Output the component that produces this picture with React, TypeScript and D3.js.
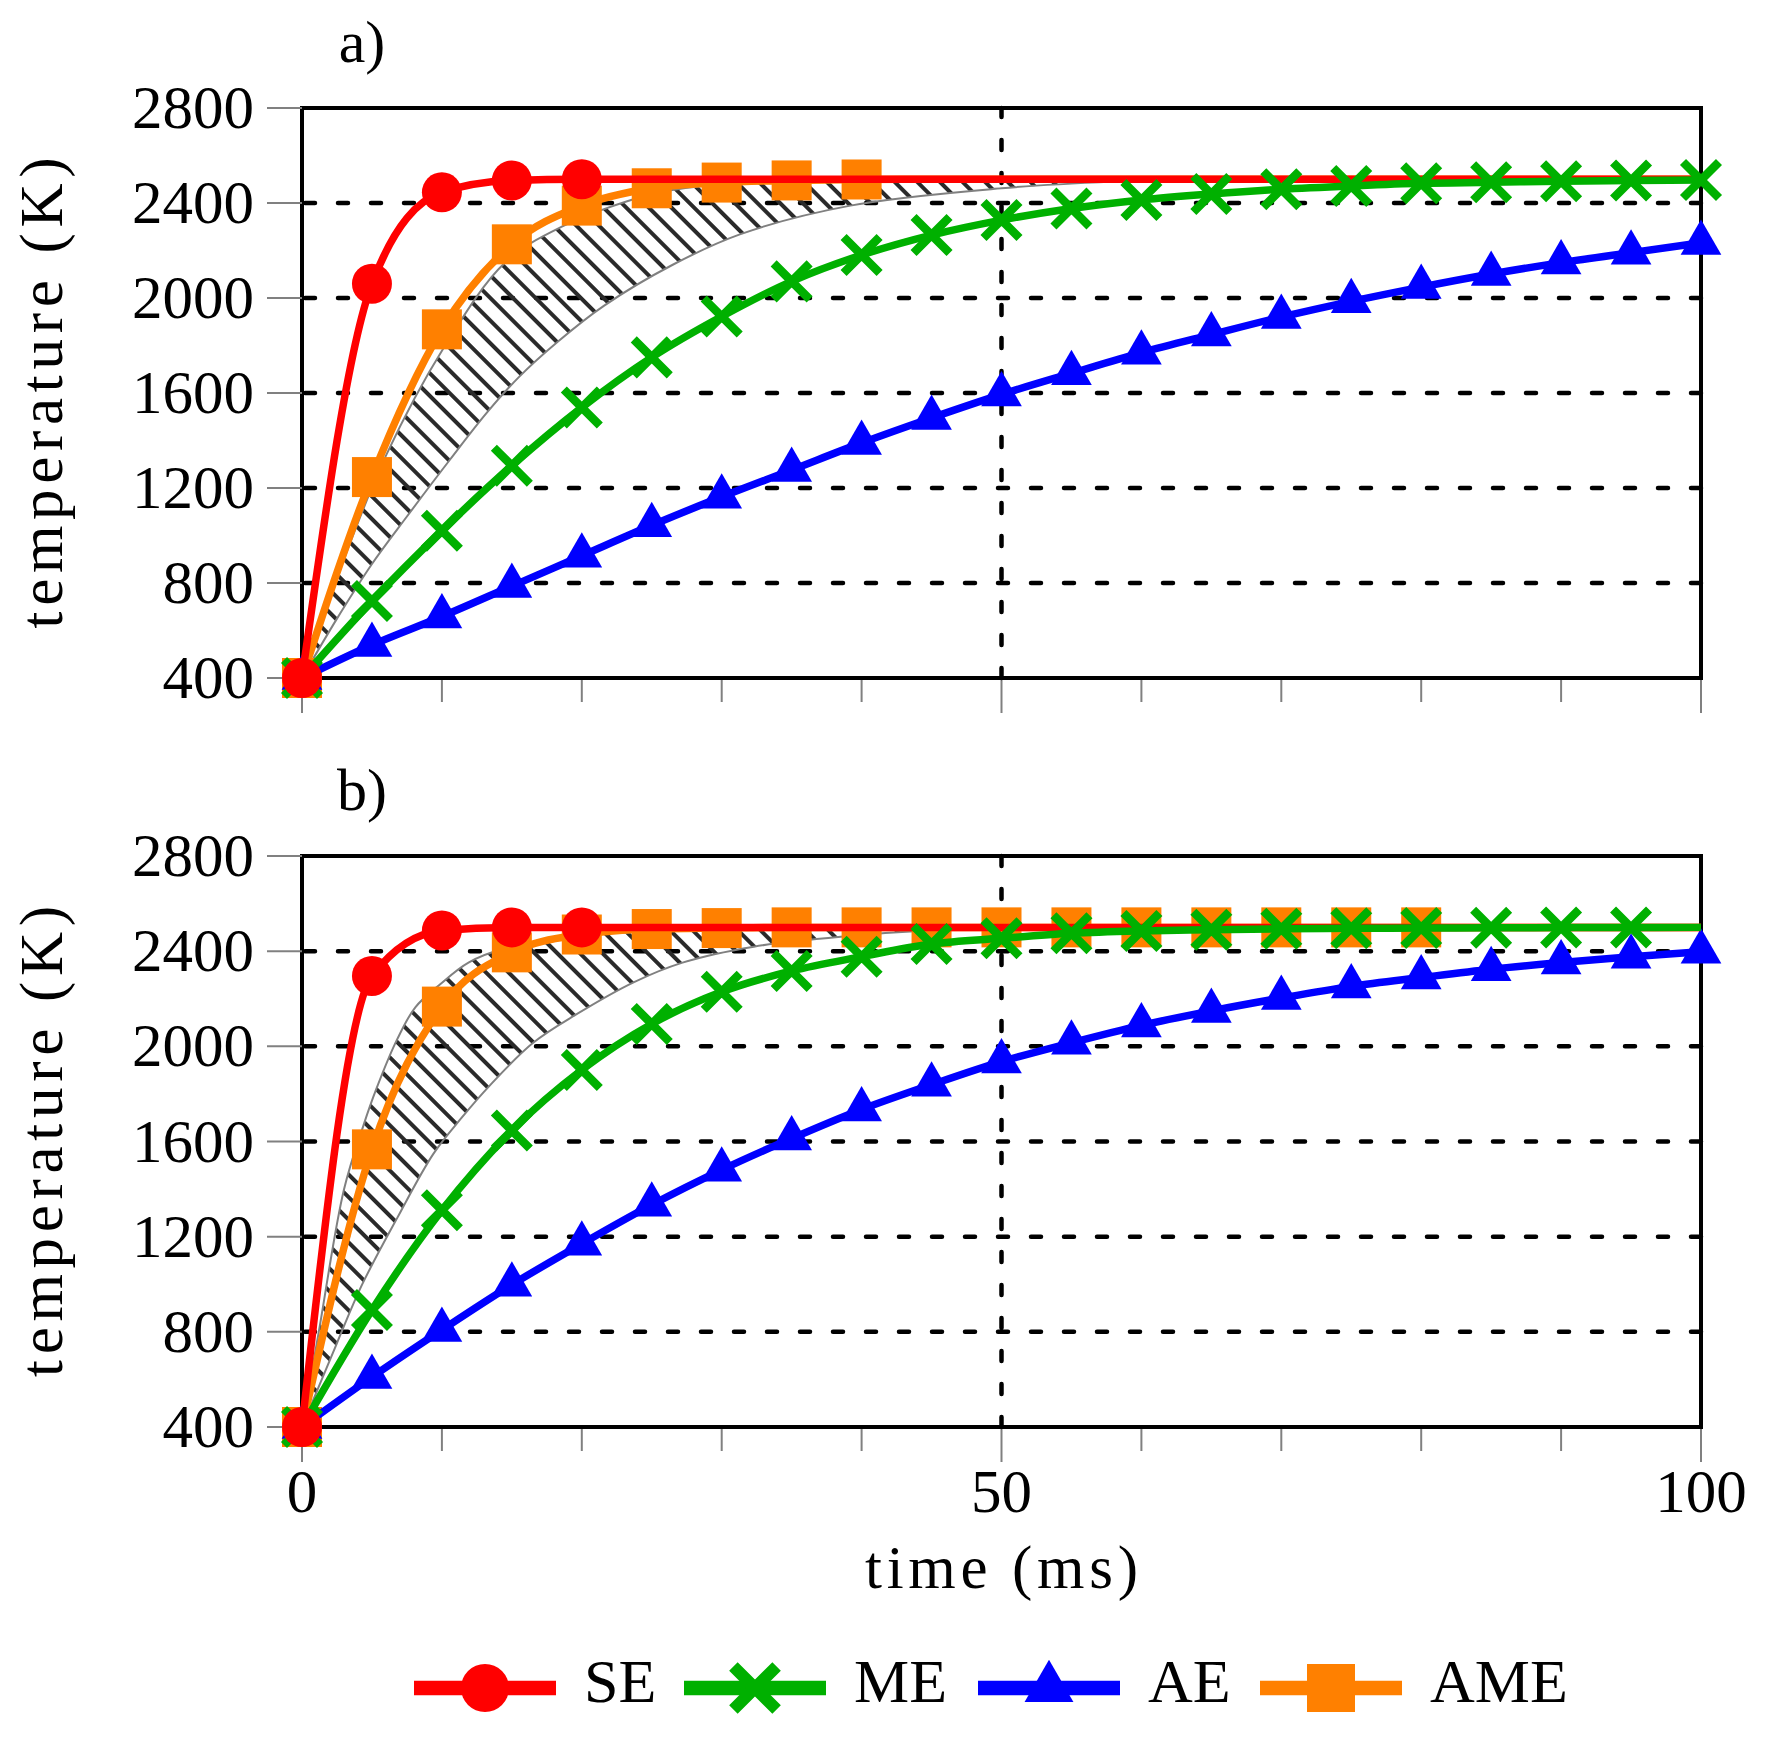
import React, {useEffect, useRef} from "react"
import * as d3 from "d3"

const svgWidth = 1771
const svgHeight = 1746

// sample times (ms) shared by every series
const timeMs = [0, 5, 10, 15, 20, 25, 30, 35, 40, 45, 50, 55, 60, 65, 70, 75, 80, 85, 90, 95, 100]
const tempTicks = [400, 800, 1200, 1600, 2000, 2400, 2800]
const timeMajorTicks = [0, 50, 100]
const timeMinorTicks = [10, 20, 30, 40, 60, 70, 80, 90]

const seriesNames = ["SE", "ME", "AE", "AME"]
const seriesColors = ["#ff0000", "#00b000", "#0000ff", "#ff8000"]

// panel a) temperatures (K)
const seA = [400, 2060, 2445, 2495, 2500, 2500, 2500, 2500, 2500, 2500, 2500, 2500, 2500, 2500, 2500, 2500, 2500, 2500, 2500, 2500, 2500]
const meA = [400, 724, 1020, 1294, 1539, 1750, 1922, 2070, 2181, 2265, 2328, 2377, 2413, 2438, 2458, 2472, 2483, 2487, 2492, 2495, 2497]
const aeA = [400, 539, 659, 787, 915, 1043, 1163, 1276, 1390, 1495, 1594, 1683, 1770, 1846, 1920, 1986, 2046, 2101, 2149, 2191, 2232]
const ameA = [400, 1246, 1868, 2226, 2389, 2462, 2486, 2495, 2499, 2500, 2500, 2500, 2500, 2500, 2500, 2500, 2500, 2500, 2500, 2500, 2500]
const markerEndA = [20, 100, 100, 40]

// panel b) temperatures (K)
const seB = [400, 2296, 2487, 2500, 2500, 2500, 2500, 2500, 2500, 2500, 2500, 2500, 2500, 2500, 2500, 2500, 2500, 2500, 2500, 2500, 2500]
const meB = [400, 892, 1311, 1646, 1901, 2094, 2229, 2317, 2377, 2430, 2454, 2475, 2485, 2490, 2494, 2496, 2497, 2498, 2499, 2499, 2500]
const aeB = [400, 610, 808, 998, 1170, 1334, 1481, 1613, 1735, 1839, 1936, 2015, 2088, 2149, 2203, 2252, 2289, 2324, 2352, 2377, 2398]
const ameB = [400, 1567, 2167, 2395, 2470, 2493, 2497, 2500, 2500, 2500, 2500, 2500, 2500, 2500, 2500, 2500, 2500, 2500, 2500, 2500, 2500]
const markerEndB = [20, 95, 100, 80]

// hatched band limits, [time, temperature]
const bandUpperA: [number, number][] = [[0, 400], [3, 900], [6, 1336], [10.1, 1787], [14.5, 2148], [18.5, 2298], [24.7, 2433], [28.5, 2471], [35, 2487], [45, 2494], [58, 2495]]
const bandLowerA: [number, number][] = [[0, 400], [2.5, 650], [5, 880], [7.5, 1080], [10.6, 1321], [13.2, 1516], [15.5, 1667], [18.3, 1817], [21.6, 1968], [26.5, 2140], [31.3, 2268], [39.2, 2389], [50, 2462], [58, 2490]]
const bandUpperB: [number, number][] = [[0, 400], [1.2, 800], [3, 1398], [4.4, 1669], [5.3, 1819], [6.8, 2029], [8.1, 2164], [9.9, 2262], [11.9, 2352], [14.5, 2412], [19.6, 2465], [27.2, 2487], [35, 2496], [45, 2499]]
const bandLowerB: [number, number][] = [[0, 400], [2.5, 753], [4.25, 993], [6.8, 1278], [9.4, 1549], [11.4, 1699], [13.4, 1834], [16.5, 2014], [19.6, 2134], [23.7, 2269], [27.2, 2352], [32.3, 2419], [39.2, 2464], [45, 2488], [50, 2496]]

const font = "'Liberation Serif', 'DejaVu Serif', serif"

const drawMarker = (g: any, kind: number, color: string, s: number) => {
    if (kind === 0) {
        g.append("circle").attr("r", 20 * s).attr("fill", color)
    } else if (kind === 1) {
        const a = 18 * s
        g.append("path")
            .attr("d", `M${-a},${-a}L${a},${a}M${-a},${a}L${a},${-a}`)
            .attr("stroke", color).attr("stroke-width", s > 1 ? 12 : 8.5).attr("fill", "none")
    } else if (kind === 2) {
        const r = 23.5 * s
        const h = r * Math.sqrt(3) / 2
        g.append("path").attr("d", `M0,${-r}L${h},${r / 2}L${-h},${r / 2}Z`).attr("fill", color)
    } else {
        const h = 20 * s
        g.append("rect").attr("x", -h).attr("y", -h).attr("width", 2 * h).attr("height", 2 * h).attr("fill", color)
    }
}

const App = () => {
    const ref = useRef<SVGSVGElement>(null)

    useEffect(() => {
        const svg = d3.select(ref.current)
        svg.selectAll("*").remove()

        svg.append("defs").append("pattern")
            .attr("id", "hatch")
            .attr("patternUnits", "userSpaceOnUse")
            .attr("width", 16).attr("height", 16)
            .attr("patternTransform", "rotate(-45)")
            .append("line")
            .attr("x1", 8).attr("y1", 0).attr("x2", 8).attr("y2", 16)
            .attr("stroke", "#2a2a2a").attr("stroke-width", 4)

        const x = d3.scaleLinear().domain([0, 100]).range([302, 1701])

        const panels = [
            {label: "a)", top: 108, bottom: 678, values: [seA, meA, aeA, ameA], markerEnd: markerEndA,
                upper: bandUpperA, lower: bandLowerA, xLabels: false},
            {label: "b)", top: 856, bottom: 1427, values: [seB, meB, aeB, ameB], markerEnd: markerEndB,
                upper: bandUpperB, lower: bandLowerB, xLabels: true},
        ]

        panels.forEach(p => {
            const y = d3.scaleLinear().domain([400, 2800]).range([p.bottom, p.top])
            const g = svg.append("g")

            // frame
            g.append("rect")
                .attr("x", x(0)).attr("y", y(2800))
                .attr("width", x(100) - x(0)).attr("height", y(400) - y(2800))
                .attr("fill", "none").attr("stroke", "#000").attr("stroke-width", 4)

            // ticks
            g.selectAll(".yt").data(tempTicks).join("line")
                .attr("x1", x(0) - 35).attr("x2", x(0))
                .attr("y1", d => y(d)).attr("y2", d => y(d))
                .attr("stroke", "#808080").attr("stroke-width", 2)
            g.selectAll(".xmaj").data(timeMajorTicks).join("line")
                .attr("x1", d => x(d)).attr("x2", d => x(d))
                .attr("y1", y(400) + 2).attr("y2", y(400) + 35)
                .attr("stroke", "#808080").attr("stroke-width", 2)
            g.selectAll(".xmin").data(timeMinorTicks).join("line")
                .attr("x1", d => x(d)).attr("x2", d => x(d))
                .attr("y1", y(400) + 2).attr("y2", y(400) + 24)
                .attr("stroke", "#808080").attr("stroke-width", 2)

            // tick labels
            g.selectAll(".yl").data(tempTicks).join("text")
                .attr("x", 254).attr("y", d => y(d) + 20)
                .attr("text-anchor", "end")
                .attr("font-family", font).attr("font-size", 61)
                .text(d => String(d))
            if (p.xLabels) {
                g.selectAll(".xl").data(timeMajorTicks).join("text")
                    .attr("x", d => x(d)).attr("y", 1512)
                    .attr("text-anchor", "middle")
                    .attr("font-family", font).attr("font-size", 61)
                    .text(d => String(d))
            }

            // grid
            const grid = g.append("g")
                .attr("stroke", "#000").attr("stroke-width", 4.5)
                .attr("stroke-dasharray", "10 23").attr("stroke-linecap", "round")
            tempTicks.slice(1, -1).forEach(t => {
                grid.append("line").attr("x1", x(0) + 3).attr("x2", x(100)).attr("y1", y(t)).attr("y2", y(t))
            })
            grid.append("line").attr("x1", x(50)).attr("x2", x(50)).attr("y1", y(400)).attr("y2", y(2800))

            // panel tag and axis label
            g.append("text")
                .attr("x", 362).attr("y", p.top - 46)
                .attr("text-anchor", "middle")
                .attr("font-family", font).attr("font-size", 60)
                .text(p.label)
            g.append("text")
                .attr("transform", `translate(62, ${(p.top + p.bottom) / 2}) rotate(-90)`)
                .attr("text-anchor", "middle")
                .attr("font-family", font).attr("font-size", 61)
                .attr("textLength", 471).attr("lengthAdjust", "spacing")
                .text("temperature (K)")

            // hatched band
            const bandLine = d3.line<[number, number]>()
                .x(d => x(d[0])).y(d => y(d[1]))
                .curve(d3.curveCatmullRom)
            const up = bandLine(p.upper)!
            const lo = bandLine(p.lower.slice().reverse())!
            g.append("path").attr("d", up + "L" + lo.slice(1) + "Z").attr("fill", "url(#hatch)")
            g.append("path").attr("d", up).attr("fill", "none").attr("stroke", "#808080").attr("stroke-width", 2)
            g.append("path").attr("d", bandLine(p.lower)!).attr("fill", "none").attr("stroke", "#808080").attr("stroke-width", 2)

            // series
            const line = d3.line<number>()
                .x((_, i) => x(timeMs[i])).y(d => y(d))
                .curve(d3.curveMonotoneX)
            const drawLine = (k: number) => {
                g.append("path").attr("d", line(p.values[k])!)
                    .attr("fill", "none").attr("stroke", seriesColors[k])
                    .attr("stroke-width", 7.5).attr("stroke-linejoin", "round")
            }
            const drawMarks = (k: number) => {
                p.values[k].forEach((v, i) => {
                    if (timeMs[i] > p.markerEnd[k]) return
                    const m = g.append("g").attr("transform", `translate(${x(timeMs[i])},${y(v)})`)
                    drawMarker(m, k, seriesColors[k], 1)
                })
            }
            drawLine(3); drawMarks(3)
            drawLine(2); drawMarks(2)
            drawLine(0)
            drawLine(1); drawMarks(1)
            drawMarks(0)
        })

        // x axis title
        svg.append("text")
            .attr("x", x(50)).attr("y", 1588)
            .attr("text-anchor", "middle")
            .attr("font-family", font).attr("font-size", 61)
            .attr("textLength", 273).attr("lengthAdjust", "spacing")
            .text("time (ms)")

        // legend
        const legendStart = [414, 684, 978, 1260]
        seriesNames.forEach((name, k) => {
            const lg = svg.append("g").attr("transform", `translate(${legendStart[k]},1688)`)
            lg.append("line").attr("x1", 0).attr("x2", 142).attr("y1", 0).attr("y2", 0)
                .attr("stroke", seriesColors[k]).attr("stroke-width", 14.5)
            drawMarker(lg.append("g").attr("transform", "translate(71,0)"), k, seriesColors[k], 1.2)
            lg.append("text").attr("x", 170).attr("y", 14)
                .attr("font-family", font).attr("font-size", 62)
                .text(name)
        })
    }, [])

    return (
        <svg
            ref={ref}
            width={svgWidth}
            height={svgHeight}
            viewBox={`0 0 ${svgWidth} ${svgHeight}`}
            style={{position: "absolute", left: 0, top: 0, background: "#fff"}}
        />
    )
}

export default App
